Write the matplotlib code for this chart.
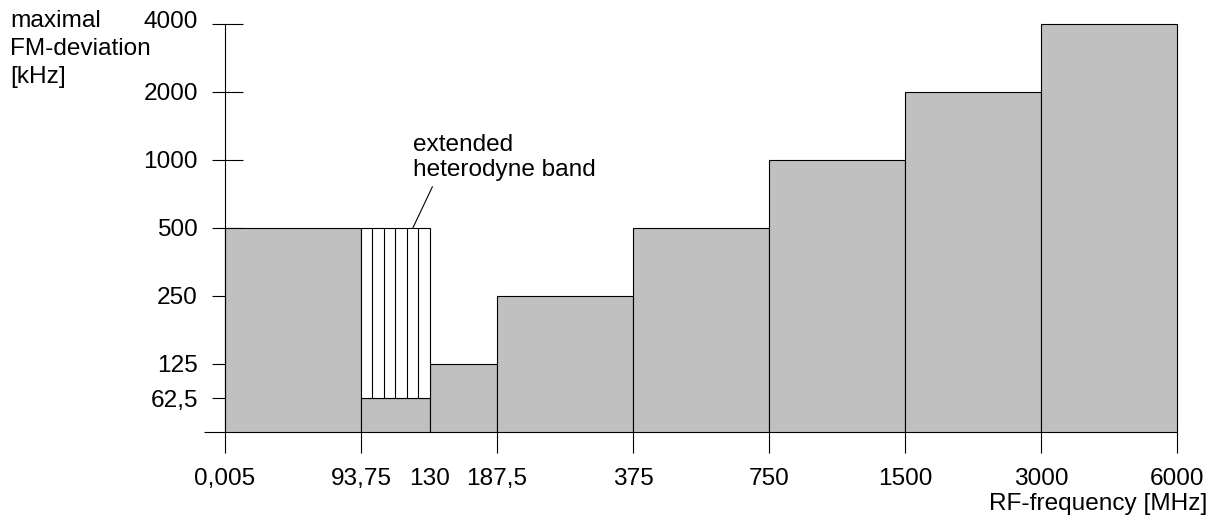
import numpy as np
import matplotlib
matplotlib.use("Agg")
import matplotlib.pyplot as plt
import matplotlib.transforms as mtransforms

# axis values, placed on an even step (one octave per step, roughly)
x_ticks = [0.005, 93.75, 130, 187.5, 375, 750, 1500, 3000, 6000]
x_labels = ["0,005", "93,75", "130", "187,5", "375", "750", "1500", "3000", "6000"]
x_steps = [0, 1, 1.507, 2, 3, 4, 5, 6, 7]

y_ticks = [0, 62.5, 125, 250, 500, 1000, 2000, 4000]
y_labels = ["", "62,5", "125", "250", "500", "1000", "2000", "4000"]
y_steps = [0, 0.5, 1, 2, 3, 4, 5, 6]

# bands: lower edge, upper edge, max deviation
band_lo = [0.005, 93.75, 130, 187.5, 375, 750, 1500, 3000]
band_hi = [93.75, 130, 187.5, 375, 750, 1500, 3000, 6000]
deviation = [500, 62.5, 125, 250, 500, 1000, 2000, 4000]

# extended heterodyne band
ext_lo = 93.75
ext_hi = 130
ext_bottom = 62.5
ext_top = 500

ylabel_lines = ['maximal', 'FM-deviation', '[kHz]']

plt.rcParams['font.family'] = ['Liberation Sans', 'DejaVu Sans']
fs = 17.6

fig = plt.figure(figsize=(12.19, 5.28), dpi=100)
ax = fig.add_axes([225 / 1219, 96 / 528, 952 / 1219, 408 / 528])

ax.set_xscale('function', functions=(lambda v: np.interp(v, x_ticks, x_steps),
                                     lambda s: np.interp(s, x_steps, x_ticks)))
ax.set_yscale('function', functions=(lambda v: np.interp(v, y_ticks, y_steps),
                                     lambda s: np.interp(s, y_steps, y_ticks)))

lo = np.array(band_lo)
hi = np.array(band_hi)
ax.bar(lo, np.array(deviation), width=hi - lo, align='edge', color='#c0c0c0',
       edgecolor='black', linewidth=0.8, zorder=2, clip_on=False)

ax.bar(ext_lo, ext_top - ext_bottom, width=ext_hi - ext_lo, bottom=ext_bottom,
       align='edge', color='white', edgecolor='black', linewidth=0.8, zorder=2,
       clip_on=False)
ax.vlines(np.linspace(ext_lo, ext_hi, 7)[1:-1], ext_bottom, ext_top,
          colors='black', linewidth=0.8, zorder=3)

ax.set_xlim(x_ticks[0], x_ticks[-1])
ax.set_ylim(y_ticks[0], y_ticks[-1])

for s in ['top', 'right', 'bottom']:
    ax.spines[s].set_visible(False)
ax.spines['left'].set_linewidth(0.8)
ax.set_axisbelow(True)

ax.set_xticks(x_ticks)
ax.set_xticklabels(x_labels)
ax.tick_params(axis='x', direction='out', length=15, width=0.8, pad=11,
               labelsize=fs, colors='black')
ax.xaxis.get_major_ticks()[2].tick1line.set_visible(False)

ax.set_yticks(y_ticks)
ax.set_yticklabels(y_labels)
ax.set_yticks(y_ticks[1:], minor=True)
ax.yaxis.remove_overlapping_locs = False
ax.tick_params(axis='y', which='major', direction='out', length=9.5, width=0.8,
               pad=10, labelsize=fs)
ax.tick_params(axis='y', which='minor', direction='in', length=13, width=0.8)
ax.yaxis.get_major_ticks()[0].tick1line.set_markersize(15)

# top label sits a bit higher than its tick
top_lab = ax.get_yticklabels()[-1]
top_lab.set_transform(top_lab.get_transform() +
                      mtransforms.ScaledTranslation(0, 3 / 72, fig.dpi_scale_trans))

ax.annotate('extended\nheterodyne band', xy=(121, ext_top),
            xytext=(413, 528 - 134), textcoords='figure pixels',
            ha='left', va='top', fontsize=fs, linespacing=1.2,
            arrowprops=dict(arrowstyle='-', lw=0.8, color='black',
                            relpos=(0.12, 0), shrinkA=2, shrinkB=0))

# y label, one text per line
for i, line in enumerate(ylabel_lines):
    fig.text(10, 528 - 27 - 28 * i, line, transform=None,
             ha='left', va='baseline', fontsize=fs)
fig.text(1207, 18, 'RF-frequency [MHz]', transform=None,
         ha='right', va='baseline', fontsize=fs)

fig.savefig('out.png', dpi=100)
